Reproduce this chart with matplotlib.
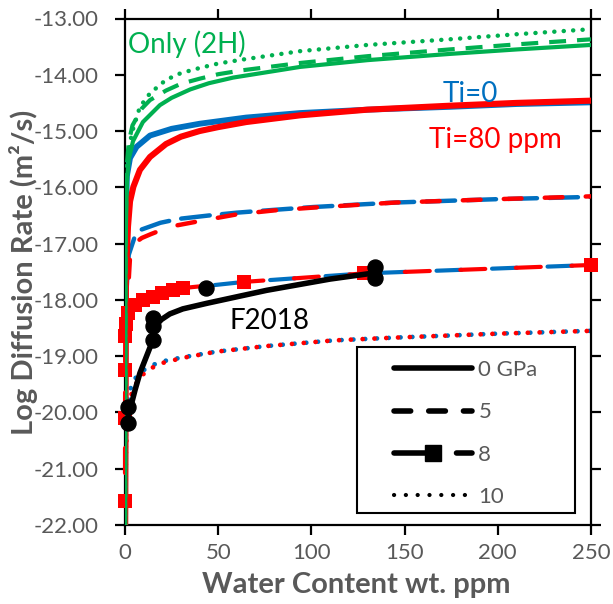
import matplotlib
matplotlib.use('Agg')
import matplotlib.pyplot as plt
from matplotlib.lines import Line2D
from matplotlib.patches import Rectangle

plt.rcParams['font.family'] = ['Lato', 'DejaVu Sans']
plt.rcParams['lines.scale_dashes'] = False

GREEN = '#00B050'
BLUE = '#0070C0'
RED = '#FF0000'
GRAY = '#595959'

# ---- data ----
g0_c = [0.05, 0.3, 1, 2, 4.3, 9.6, 18.7, 25, 35, 45, 58, 94, 130, 174, 210, 250]
g0_y = [-22.5, -17.0, -15.9, -15.5, -15.18, -14.84, -14.54, -14.41, -14.26, -14.15, -14.05, -13.86, -13.74, -13.63, -13.55, -13.47]

g5_c = [0.05, 0.3, 1, 2, 4, 9, 13.4, 22, 30, 40, 50, 63, 94, 130, 174, 210, 250]
g5_y = [-22.5, -16.8, -15.6, -15.2, -14.9, -14.6, -14.45, -14.28, -14.16, -14.07, -13.99, -13.92, -13.79, -13.67, -13.55, -13.46, -13.37]

g10_c = [0.05, 0.3, 1, 3.6, 8, 13.4, 22, 30, 40, 50, 63, 94, 130, 174, 210, 250]
g10_y = [-22.5, -16.5, -15.6, -15.04, -14.57, -14.33, -14.09, -13.97, -13.88, -13.80, -13.73, -13.58, -13.47, -13.37, -13.28, -13.19]

b0_c = [0.05, 0.3, 1, 2.7, 6.2, 13.4, 25, 40, 65, 94, 130, 174, 210, 250]
b0_y = [-22.5, -16.8, -15.8, -15.48, -15.28, -15.08, -14.96, -14.87, -14.76, -14.68, -14.62, -14.57, -14.52, -14.49]

r0_c = [0.05, 0.5, 1.6, 2.7, 4.5, 8, 13.4, 22, 30, 40, 50, 65, 94, 130, 174, 210, 250]
r0_y = [-22.5, -17.6, -16.7, -16.25, -15.99, -15.69, -15.46, -15.23, -15.10, -15.00, -14.93, -14.84, -14.72, -14.62, -14.55, -14.50, -14.46]

b5_c = [0.05, 0.5, 2, 5, 8, 19, 29, 45, 60, 80, 101, 145, 200, 250]
b5_y = [-22.5, -18.0, -17.2, -16.9, -16.76, -16.63, -16.56, -16.50, -16.45, -16.40, -16.35, -16.27, -16.21, -16.17]

r5_c = [0.05, 0.5, 2.7, 5.3, 9, 14, 24, 40, 60, 80, 101, 145, 200, 250]
r5_y = [-22.5, -18.5, -17.24, -16.99, -16.90, -16.83, -16.70, -16.60, -16.48, -16.41, -16.36, -16.27, -16.21, -16.16]

b8_c = [0.05, 0.3, 1, 3, 8, 15, 30, 64, 128, 250]
b8_y = [-22.5, -19.0, -18.45, -18.2, -18.02, -17.92, -17.8, -17.68, -17.53, -17.38]

r8_c = [0.001, 0.01, 0.05, 0.1, 0.5, 1.7, 5.4, 9.7, 15, 20, 26, 31, 64, 128, 250]
r8_y = [-21.57, -20.1, -19.25, -18.65, -18.42, -18.24, -18.09, -18.0, -17.95, -17.88, -17.82, -17.79, -17.68, -17.53, -17.38]

b10_c = [0.05, 0.5, 2, 4, 8, 12, 19, 31, 49, 76, 112, 145, 200, 250]
b10_y = [-22.5, -20.3, -19.7, -19.45, -19.3, -19.2, -19.1, -19.02, -18.92, -18.82, -18.72, -18.67, -18.6, -18.55]

r10_c = [0.05, 0.5, 2, 4, 8, 12, 19, 31, 49, 76, 112, 145, 200, 250]
r10_y = [-22.5, -20.6, -19.9, -19.6, -19.38, -19.25, -19.13, -19.03, -18.92, -18.82, -18.72, -18.67, -18.6, -18.55]

fit_c = [1.5, 5.4, 8, 14.3, 15.5, 17.0, 19.5, 24, 31, 44, 76, 110, 134]
fit_y = [-20.1, -19.6, -19.3, -18.77, -18.55, -18.44, -18.35, -18.25, -18.16, -18.06, -17.83, -17.63, -17.52]

f2018_c = [1.8, 1.8, 15, 15, 15, 43.7, 134, 134]
f2018_y = [-20.19, -19.90, -18.71, -18.47, -18.32, -17.79, -17.61, -17.42]

x_ticks = [0, 50, 100, 150, 200, 250]
y_ticks = [-22, -21, -20, -19, -18, -17, -16, -15, -14, -13]
legend_labels = ['0 GPa', '5', '8', '10']

# ---- figure ----
fig = plt.figure(figsize=(6.13, 6.04), dpi=100)
ax = fig.add_axes([125 / 613, 79 / 604, 466 / 613, 506.5 / 604])

DASH5_B = (0, (20.7, 8.8))
DASH5_R = (8, (12.8, 16.7))
DASH_G = (0, (12.2, 7.9))

# blue series
ax.plot(b0_c, b0_y, color=BLUE, lw=4.2, solid_capstyle='round', solid_joinstyle='round', zorder=2)
ax.plot(b5_c, b5_y, color=BLUE, lw=3.2, ls=DASH5_B, dash_capstyle='round', zorder=2)
ax.plot(b8_c, b8_y, color=BLUE, lw=3.0, ls=(0, (18, 22)), dash_capstyle='round', zorder=2)
ax.plot(b10_c, b10_y, color=BLUE, lw=3.4, ls=(0, (0.1, 8.4)), dash_capstyle='round', zorder=2)
# red series
ax.plot(r0_c, r0_y, color=RED, lw=4.4, solid_capstyle='round', solid_joinstyle='round', zorder=3)
ax.plot(r5_c, r5_y, color=RED, lw=3.2, ls=DASH5_R, dash_capstyle='round', zorder=3)
ax.plot(r8_c, r8_y, color=RED, lw=3.0, ls=(20, (18, 22)), dash_capstyle='round',
        marker='s', markersize=9.5, markeredgewidth=0, zorder=3, clip_on=False)
ax.plot(r10_c, r10_y, color=RED, lw=3.4, ls=(4.2, (0.1, 8.4)), dash_capstyle='round', zorder=3)
# green series
ax.plot(g0_c, g0_y, color=GREEN, lw=3.0, solid_joinstyle='round', zorder=4)
ax.plot(g5_c, g5_y, color=GREEN, lw=3.0, ls=DASH_G, zorder=4)
ax.plot(g10_c, g10_y, color=GREEN, lw=3.2, ls=(0, (0.1, 6.7)), dash_capstyle='round', zorder=4)
# F2018
ax.plot(fit_c, fit_y, color='black', lw=4.0, solid_capstyle='round', solid_joinstyle='round', zorder=5)
ax.plot(f2018_c, f2018_y, ls='none', marker='o', color='black', markersize=10.8, zorder=6, clip_on=False)

# annotations
ax.text(1.6, -13.61, 'Only (2H)', color=GREEN, fontsize=20, ha='left', va='baseline')
ax.text(170.2, -14.48, 'Ti=0', color=BLUE, fontsize=20, ha='left', va='baseline')
ax.text(163.3, -15.30, 'Ti=80 ppm', color=RED, fontsize=20, ha='left', va='baseline')
ax.text(56.2, -18.515, 'F2018', color='black', fontsize=20, ha='left', va='baseline')

# axes styling
ax.set_xlim(0, 250)
ax.set_ylim(-22, -13)
ax.set_xticks(x_ticks)
ax.set_yticks(y_ticks)
ax.set_xticklabels([str(v) for v in x_ticks])
ax.set_yticklabels(['%.2f' % v for v in y_ticks])
for s in ax.spines.values():
    s.set_linewidth(1.6)
    s.set_color('black')
ax.tick_params(axis='both', direction='out', length=7, width=1.6, colors='black',
               labelcolor=GRAY, labelsize=16, top=True, right=True)
ax.tick_params(axis='y', pad=12)
ax.tick_params(axis='x', pad=6)

fig.text(356 / 613, 1 - 585 / 604, 'Water Content wt. ppm', fontsize=21, fontweight='bold',
         color=GRAY, ha='center', va='center')
fig.text(24 / 613, 1 - 272 / 604, 'Log Diffusion Rate (m\u00b2/s)', fontsize=21, fontweight='bold',
         color=GRAY, ha='center', va='center', rotation=90)

# legend
rect = Rectangle((0.498, 0.0237), 0.468, 0.3277, transform=ax.transAxes,
                 facecolor='white', edgecolor='black', lw=1.5, zorder=7)
ax.add_patch(rect)
handles = [
    Line2D([], [], color='black', lw=4.0, solid_capstyle='round'),
    Line2D([], [], color='black', lw=4.0, ls=(0, (12, 13)), dash_capstyle='round'),
    Line2D([], [], color='black', lw=4.0, ls=(0, (32, 13)), dash_capstyle='round',
           marker='s', markersize=12),
    Line2D([], [], color='black', lw=3.0, ls=(0, (0.1, 8.4)), dash_capstyle='round'),
]
leg = ax.legend(handles, legend_labels, loc='center left', bbox_to_anchor=(0.577, 0.1806),
                frameon=False, fontsize=16, labelcolor=GRAY, handlelength=3.5,
                handletextpad=0.3, borderpad=0, borderaxespad=0, labelspacing=1.0,
                numpoints=1)
leg.set_zorder(8)

fig.savefig('out.png', dpi=100)
